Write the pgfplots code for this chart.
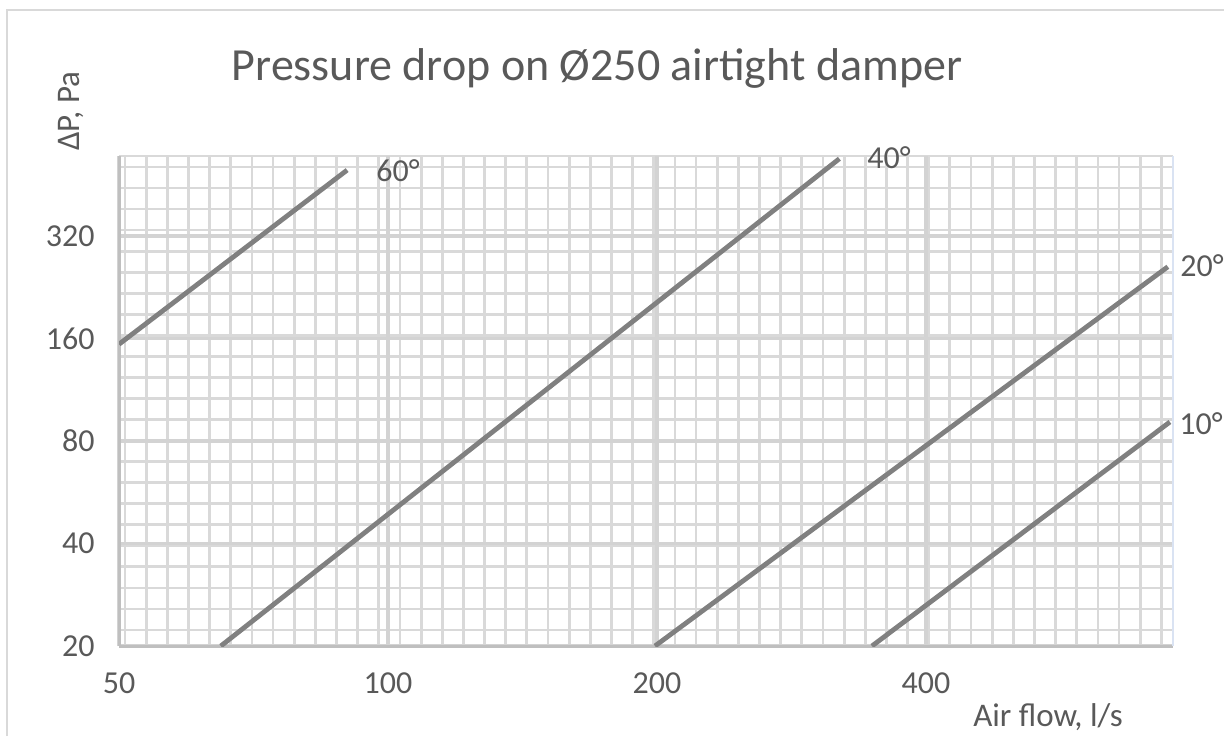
\documentclass[border=0pt]{standalone}
\usepackage{fontspec}
\setmainfont{Carlito}
\usepackage{pgfplots}
\pgfplotsset{compat=1.18}
\definecolor{txt}{HTML}{595959}
\definecolor{curve}{HTML}{808080}
\definecolor{gridc}{HTML}{D9D9D9}
\definecolor{majc}{HTML}{D3D3D3}
\definecolor{axc}{HTML}{BFBFBF}
\definecolor{framec}{HTML}{D9D9D9}
\definecolor{edgec}{HTML}{DAE3F3}
\begin{document}
\begin{tikzpicture}
\path[use as bounding box] (0pt,0pt) rectangle (612pt,368pt);
\draw[framec, line width=1.2pt] (3.5pt,0pt) -- (3.5pt,363pt) -- (612pt,363pt);
% uniform background grid
\begin{axis}[at={(59.5pt,45pt)}, anchor=south west, scale only axis,
  width=527pt, height=245pt,
  xmin=0, xmax=1054, ymin=0, ymax=490,
  xtick={6,27.15,...,1043}, ytick={16,37.05,...,480},
  extra y ticks={490}, extra y tick labels={},
  xticklabels={}, yticklabels={},
  grid=major, major grid style={gridc, line width=1.4pt},
  axis line style={draw=none}, major tick length=0pt]
\end{axis}
% data axis
\begin{axis}[at={(59.5pt,45pt)}, anchor=south west, scale only axis,
  width=527pt, height=245pt,
  xmode=log, ymode=log, log basis x=2, log basis y=2,
  xmin=50, xmax=756, ymin=20, ymax=550,
  xtick={50,100,200,400}, xticklabels={50,100,200,400},
  ytick={20,40,80,160,320}, yticklabels={20,40,80,160,320},
  grid=major, major grid style={majc, line width=1.7pt},
  axis x line=bottom, axis y line=left,
  axis line style={-, axc, line width=1.5pt},
  major tick length=0pt,
  tick label style={font=\fontsize{16}{19}\selectfont, text=txt},
  xticklabel style={yshift=-10pt},
  yticklabel style={xshift=-8.7pt}]
\addplot[curve, line width=2.4pt] coordinates {(50,154) (90,500)};
\addplot[curve, line width=2.4pt] coordinates {(65,20) (320,540)};
\addplot[curve, line width=2.4pt] coordinates {(199,20) (746,260)};
\addplot[curve, line width=2.4pt] coordinates {(348,20) (750,91)};
\end{axis}
\draw[edgec, line width=0.8pt] (586.5pt,45pt) -- (586.5pt,290pt);
\node[txt, font=\fontsize{23}{27}\selectfont] at (298.5pt,334pt) {Pressure drop on Ø250 airtight damper};
\node[txt, font=\fontsize{16.5}{19}\selectfont, rotate=90] at (35.5pt,312.5pt) {ΔP, Pa};
\node[txt, font=\fontsize{16.5}{19}\selectfont] at (524pt,9.5pt) {Air flow, l/s};
\node[txt, font=\fontsize{16}{19}\selectfont] at (199pt,282.5pt) {60°};
\node[txt, font=\fontsize{16}{19}\selectfont] at (444.5pt,289pt) {40°};
\node[txt, font=\fontsize{16}{19}\selectfont] at (601pt,235pt) {20°};
\node[txt, font=\fontsize{16}{19}\selectfont] at (600.5pt,156pt) {10°};
\end{tikzpicture}
\end{document}
